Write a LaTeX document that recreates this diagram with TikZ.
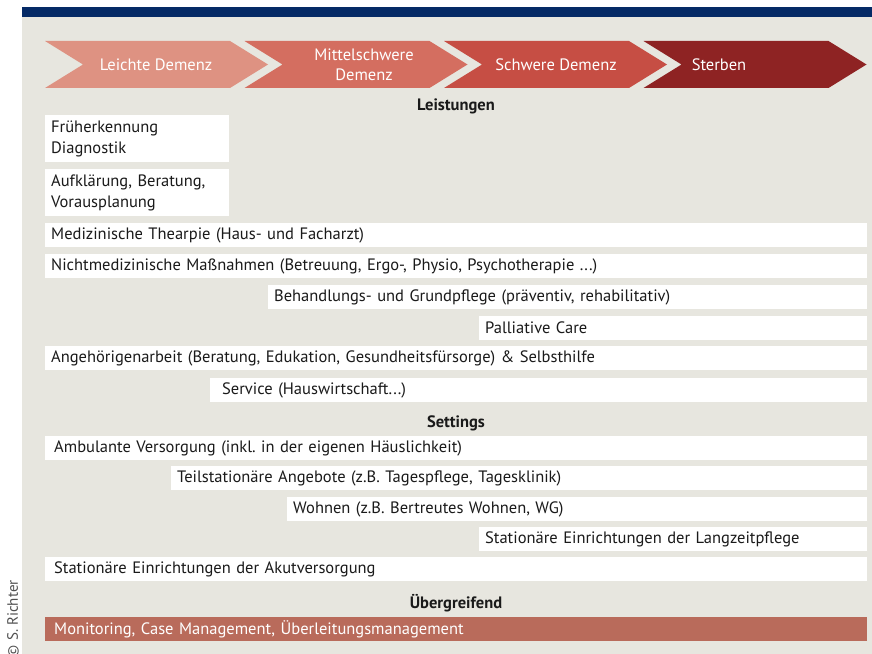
\documentclass[tikz,border=0pt]{standalone}
\usepackage{fontspec}
\setmainfont{PT Sans}
\definecolor{bgbeige}{HTML}{E7E6DF}
\definecolor{topblue}{HTML}{052A66}
\definecolor{chevA}{HTML}{DE9282}
\definecolor{chevB}{HTML}{D46E60}
\definecolor{chevC}{HTML}{C64E44}
\definecolor{chevD}{HTML}{8E2323}
\definecolor{monbar}{HTML}{B96B5B}
\definecolor{txt}{HTML}{1A1A1A}
\definecolor{copy}{HTML}{505050}
\newcommand{\bodyfont}{\fontsize{16.5bp}{20.5bp}\selectfont\frenchspacing}
\tikzset{
  box/.style={rectangle, fill=white, anchor=north west, minimum height=24bp,
    inner xsep=6bp, inner ysep=0pt, align=left, font=\bodyfont, text=txt},
  hdr/.style={font=\bodyfont\bfseries, text=txt, inner sep=0pt},
  chevtext/.style={font=\bodyfont, text=white, align=center, inner sep=0pt},
}
\begin{document}
\begin{tikzpicture}[x=1bp,y=-1bp]
\useasboundingbox (0,0) rectangle (872,654);
% background
\fill[bgbeige] (22,17) rectangle (872,654);
\fill[topblue] (22,7) rectangle (872,17);
% chevrons
\foreach \i/\c in {0/chevA,1/chevB,2/chevC,3/chevD}{
  \pgfmathsetmacro{\xo}{45+199.5*\i}
  \fill[\c] (\xo,41) -- ++(185,0) -- ++(38,23.5) -- ++(-38,23.5) -- ++(-185,0) -- ++(38,-23.5) -- cycle;
}
\node[chevtext] (c1) at (156,65) {Leichte Demenz};
\node[chevtext] (c2) at (364,65) {Mittelschwere\\Demenz};
\node[chevtext] (c3) at (556,65) {Schwere Demenz};
\node[chevtext] (c4) at (719,65) {Sterben};
% Leistungen
\node[hdr] (hL) at (456,106) {Leistungen};
\node[box, minimum height=47bp, text width=172bp] (fru) at (45,115) {Früherkennung\\Diagnostik};
\node[box, minimum height=47bp, text width=172bp] (auf) at (45,169) {Aufklärung, Beratung,\\Vorausplanung};
\node[box, text width=810bp] (med) at (45,223) {Medizinische Thearpie (Haus- und Facharzt)};
\node[box, text width=810bp] (nmed) at (45,254) {Nichtmedizinische Maßnahmen (Betreuung, Ergo-, Physio, Psychotherapie ...)};
\node[box, text width=587bp] (beh) at (268,285) {Behandlungs- und Grundpflege (präventiv, rehabilitativ)};
\node[box, text width=376bp] (pal) at (479,316) {Palliative Care};
\node[box, text width=810bp] (ang) at (45,346) {Angehörigenarbeit (Beratung, Edukation, Gesundheitsfürsorge) \& Selbsthilfe};
\node[box, text width=645bp] (ser) at (210,378) {\hspace*{6bp}Service (Hauswirtschaft...)};
% Settings
\node[hdr] (hS) at (456,423) {Settings};
\node[box, text width=810bp] (amb) at (45,436) {\hspace*{3bp}Ambulante Versorgung (inkl. in der eigenen Häuslichkeit)};
\node[box, text width=684bp] (teil) at (171,466) {Teilstationäre Angebote (z.B. Tagespflege, Tagesklinik)};
\node[box, text width=568bp] (wohn) at (287,497) {Wohnen (z.B. Bertreutes Wohnen, WG)};
\node[box, text width=376bp] (lang) at (479,527) {Stationäre Einrichtungen der Langzeitpflege};
\node[box, text width=810bp] (akut) at (45,557) {\hspace*{3bp}Stationäre Einrichtungen der Akutversorgung};
% Übergreifend
\node[hdr] (hU) at (456,603) {Übergreifend};
\node[box, fill=monbar, text=white, text width=810bp] (mon) at (45,617) {\hspace*{3bp}Monitoring, Case Management, Überleitungsmanagement};
% copyright
\node[rotate=90, anchor=east, inner sep=0pt, text=copy, font=\fontsize{15bp}{17bp}\selectfont\frenchspacing] (cr) at (13,580) {© S. Richter};
\end{tikzpicture}
\end{document}
